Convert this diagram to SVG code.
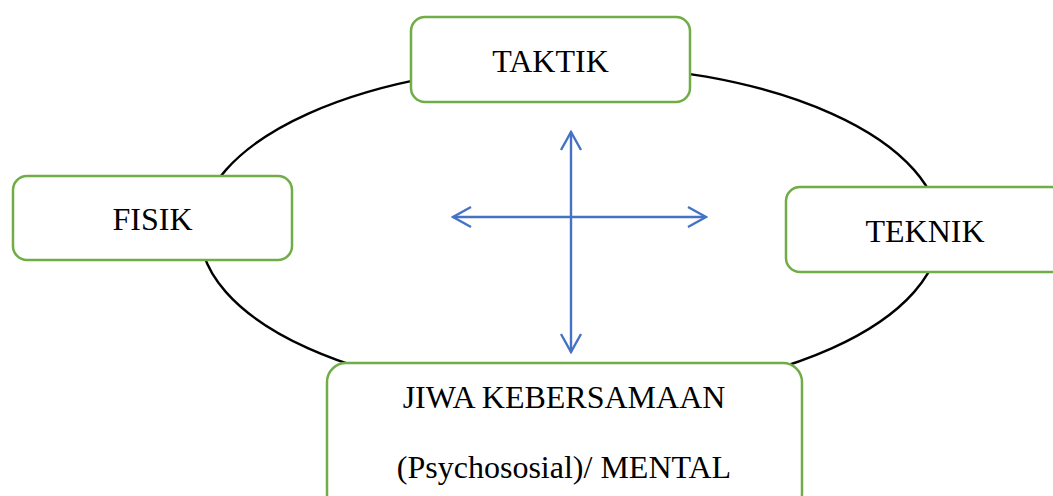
<svg xmlns="http://www.w3.org/2000/svg" width="1053" height="496" viewBox="0 0 1053 496">
  <style>
    .box { fill: #ffffff; stroke: #70AD47; stroke-width: 2.5; }
    .lbl { font-family: "Liberation Serif", "Times New Roman", serif; font-size: 32px; fill: #000000; text-anchor: middle; }
    .arr { stroke: #4472C4; stroke-width: 2.4; fill: none; marker-start: url(#head); marker-end: url(#head); }
  </style>
  <defs>
    <marker id="head" markerUnits="userSpaceOnUse" viewBox="-20 -12 22 24" refX="0" refY="0" markerWidth="22" markerHeight="24" orient="auto-start-reverse">
      <path d="M -18 -10 L 0 0 L -18 10" fill="none" stroke="#4472C4" stroke-width="2.4"/>
    </marker>
  </defs>
  <rect width="1053" height="496" fill="#ffffff"/>
  <g id="connectors">
    <ellipse id="cycle" cx="570" cy="231" rx="370" ry="166" fill="none" stroke="#000000" stroke-width="2.4"/>
    <line class="arr" x1="571" y1="132" x2="571" y2="352"/>
    <line class="arr" x1="453" y1="217" x2="706" y2="217"/>
  </g>
  <g id="taktik">
    <rect class="box" x="411" y="17" width="279" height="85" rx="14"/>
    <text class="lbl" x="550.5" y="72">TAKTIK</text>
  </g>
  <g id="fisik">
    <rect class="box" x="13" y="176" width="279" height="84" rx="14"/>
    <text class="lbl" x="152.5" y="230">FISIK</text>
  </g>
  <g id="teknik">
    <rect class="box" x="786" y="187" width="279" height="85" rx="14"/>
    <text class="lbl" x="925" y="242">TEKNIK</text>
  </g>
  <g id="jiwa">
    <rect class="box" x="327" y="363" width="475" height="150" rx="19"/>
    <text class="lbl" x="564" y="408">JIWA KEBERSAMAAN</text>
    <text class="lbl" x="564" y="478">(Psychososial)/ MENTAL</text>
  </g>
</svg>
